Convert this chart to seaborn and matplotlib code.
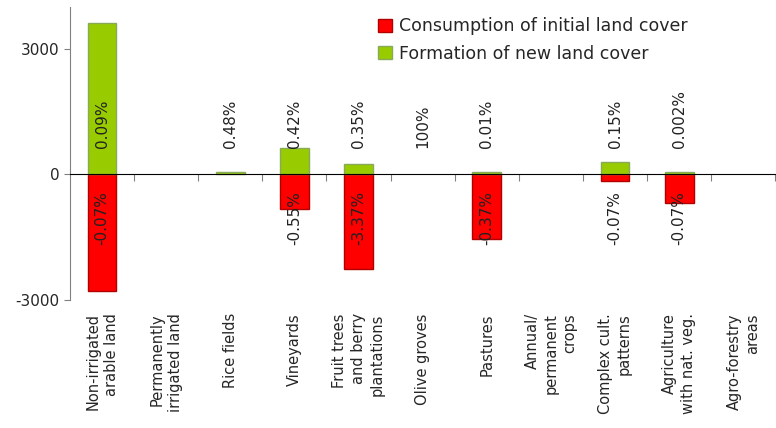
import numpy as np
import pandas as pd
import matplotlib
matplotlib.use("Agg")
import matplotlib.pyplot as plt
import matplotlib.patches as mpatches
import seaborn as sns

# land cover categories and flows (ha)
categories = [
    "Non-irrigated\narable land",
    "Permanently\nirrigated land",
    "Rice fields",
    "Vineyards",
    "Fruit trees\nand berry\nplantations",
    "Olive groves",
    "Pastures",
    "Annual/\npermanent\ncrops",
    "Complex cult.\npatterns",
    "Agriculture\nwith nat. veg.",
    "Agro-forestry\nareas",
]
consumption = [-2790, np.nan, np.nan, -830, -2260, np.nan, -1550, np.nan, -165, -690, np.nan]
formation = [3620, np.nan, 55, 620, 245, np.nan, 55, np.nan, 293, 55, np.nan]
formation_pct = ["0.09%", "", "0.48%", "0.42%", "0.35%", "100%", "0.01%", "", "0.15%", "0.002%", ""]
consumption_pct = ["-0.07%", "", "", "-0.55%", "-3.37%", "", "-0.37%", "", "-0.07%", "-0.07%", ""]

df = pd.DataFrame({"category": categories,
                   "consumption": consumption,
                   "formation": formation})

sns.set_style("white")
plt.rcParams["font.family"] = ["DejaVu Sans"]
plt.rcParams["axes.unicode_minus"] = False

fig = plt.figure(figsize=(7.76, 4.28), dpi=100)
ax = fig.add_axes([0.0902, 0.299, 0.909, 0.685])

red = "#FF0000"
green = "#99CC00"

sns.barplot(data=df, x="category", y="consumption", order=categories,
            color=red, edgecolor="#B00000", linewidth=1, width=0.45,
            saturation=1, ax=ax)
sns.barplot(data=df, x="category", y="formation", order=categories,
            color=green, edgecolor="#86AA5A", linewidth=1, width=0.45,
            saturation=1, ax=ax)

# percentage labels
for i in range(len(categories)):
    if formation_pct[i]:
        ax.text(i, 640, formation_pct[i], rotation=90, ha="center", va="bottom",
                fontsize=11, color="#222222")
    if consumption_pct[i]:
        ax.text(i, -400, consumption_pct[i], rotation=90, ha="center", va="top",
                fontsize=11, color="#222222")

ax.set_xlim(-0.5, len(categories) - 0.5)
ax.set_ylim(-3000, 4000)
ax.set_yticks([-3000, 0, 3000])
ax.tick_params(axis="y", labelsize=11, length=4, color="#808080", left=True)

# zero line with category boundary ticks
ax.spines["bottom"].set_position(("data", 0))
ax.spines["bottom"].set_color("black")
ax.spines["top"].set_visible(False)
ax.spines["right"].set_visible(False)
ax.spines["left"].set_color("#808080")
ax.set_xticks([i + 0.5 for i in range(len(categories))])
ax.set_xticklabels([])
ax.tick_params(axis="x", direction="out", length=5, color="#808080", bottom=True)
ax.set_xlabel("")
ax.set_ylabel("")

# category labels below the plot
for i, cat in enumerate(categories):
    ax.text(i, -0.045, cat, transform=ax.get_xaxis_transform(), rotation=90,
            ha="center", va="top", multialignment="right", fontsize=10.5,
            linespacing=1.3)

handles = [mpatches.Patch(facecolor=red, edgecolor="#B00000", label="Consumption of initial land cover"),
           mpatches.Patch(facecolor=green, edgecolor="#86AA5A", label="Formation of new land cover")]
ax.legend(handles=handles, loc="upper left", bbox_to_anchor=(0.422, 1.0),
          frameon=False, fontsize=12.5, handlelength=0.8, handleheight=0.8,
          handletextpad=0.4, labelspacing=0.55, borderaxespad=0.2)

plt.savefig("out.png", dpi=100)
